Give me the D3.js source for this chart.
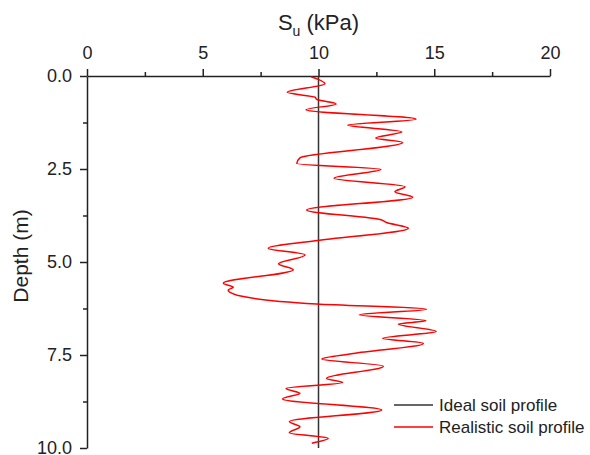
<!DOCTYPE html>
<html>
<head>
<meta charset="utf-8">
<script src="https://cdn.jsdelivr.net/npm/d3@7"></script>
<style>
  body { margin: 0; background: #fff; }
  svg { display: block; font-family: "Liberation Sans", Arial, sans-serif; }
</style>
</head>
<body>
<svg id="chart" width="590" height="455"></svg>
<script>
// Realistic profile: depth (m) and undrained shear strength (kPa)
const depth = [0.02, 0.21, 0.44, 0.57, 0.63, 0.75, 0.91, 1.16, 1.32, 1.50, 1.67, 1.79, 2.20, 2.35, 2.51, 2.75, 2.98,
  3.11, 3.26, 3.60, 3.87, 3.94, 4.09, 4.43, 4.63, 4.81, 5.05, 5.21, 5.57, 5.68, 5.75, 5.93, 6.13, 6.27,
  6.42, 6.58, 6.67, 6.87, 7.05, 7.19, 7.46, 7.61, 7.80, 8.13, 8.24, 8.40, 8.53, 8.68, 8.98, 9.29, 9.43, 9.59, 9.74, 9.87];
const su = [9.68, 10.28, 8.65, 9.85, 9.92, 10.76, 9.46, 14.21, 11.26, 13.6, 12.47, 13.63, 9.2, 9.06, 12.7, 10.67, 13.74,
  13.3, 14.07, 9.49, 12.73, 12.94, 13.88, 9.85, 7.83, 9.42, 8.27, 8.91, 5.89, 6.32, 6.1, 6.75, 9.92, 14.67,
  11.76, 14.64, 13.45, 15.08, 12.77, 14.53, 11.5, 10.14, 12.8, 10.35, 11.04, 8.6, 9.2, 8.45, 12.73, 8.74, 9.2, 8.74, 10.42, 9.71];
const idealSu = 10;
const xTicks = [0, 5, 10, 15, 20];
const yTicks = [0, 2.5, 5, 7.5, 10];
const legendLabels = ["Ideal soil profile", "Realistic soil profile"];

const svg = d3.select('#chart');
const x = d3.scaleLinear().domain([0, 20]).range([87, 550]);
const y = d3.scaleLinear().domain([0, 10]).range([76, 448]);

// top axis, minor ticks then major
svg.append('g').attr('transform', `translate(0,${y(0)})`)
  .call(d3.axisTop(x).tickValues([2.5, 7.5, 12.5, 17.5]).tickSize(4).tickFormat(''))
  .call(g => g.select('.domain').remove());
svg.append('g').attr('transform', `translate(0,${y(0)})`)
  .call(d3.axisTop(x).tickValues(xTicks).tickSize(7).tickSizeOuter(0).tickPadding(10).tickFormat(d3.format('d')));

// left axis
svg.append('g').attr('transform', `translate(${x(0)},0)`)
  .call(d3.axisLeft(y).tickValues([1.25, 3.75, 6.25, 8.75]).tickSize(4).tickFormat(''))
  .call(g => g.select('.domain').remove());
svg.append('g').attr('transform', `translate(${x(0)},0)`)
  .call(d3.axisLeft(y).tickValues(yTicks).tickSize(7).tickSizeOuter(0).tickPadding(8).tickFormat(d3.format('.1f')));

svg.selectAll('.tick line, .domain').attr('stroke', '#222').attr('stroke-width', 1.5);
svg.selectAll('.tick text').attr('fill', '#222').style('font-size', '18px');

// axis titles
const title = svg.append('text').attr('x', x(10)).attr('y', 30).attr('text-anchor', 'middle')
  .attr('fill', '#222').style('font-size', '22px');
title.append('tspan').text('S');
title.append('tspan').attr('dy', 6).style('font-size', '14px').text('u');
title.append('tspan').attr('dy', -6).text(' (kPa)');

svg.append('text').attr('transform', 'translate(28,256) rotate(-90)').attr('text-anchor', 'middle')
  .attr('fill', '#222').style('font-size', '21px').text('Depth (m)');

// ideal profile
svg.append('line').attr('x1', x(idealSu)).attr('x2', x(idealSu)).attr('y1', y(0)).attr('y2', y(10))
  .attr('stroke', '#333').attr('stroke-width', 1.5);

// realistic profile
const line = d3.line().x(d => x(d[1])).y(d => y(d[0])).curve(d3.curveMonotoneY);
svg.append('path').datum(d3.zip(depth, su)).attr('d', line)
  .attr('fill', 'none').attr('stroke', '#ff0000').attr('stroke-width', 1.5);

// legend
const legColors = ['#333', '#ff0000'];
const leg = svg.append('g').attr('transform', 'translate(394,405)');
legendLabels.forEach((t, i) => {
  leg.append('line').attr('x1', 0).attr('x2', 39).attr('y1', i * 22).attr('y2', i * 22)
    .attr('stroke', legColors[i]).attr('stroke-width', 1.5);
  leg.append('text').attr('x', 45).attr('y', i * 22 + 6).attr('fill', '#222')
    .style('font-size', '17px').text(t);
});
</script>
</body>
</html>
